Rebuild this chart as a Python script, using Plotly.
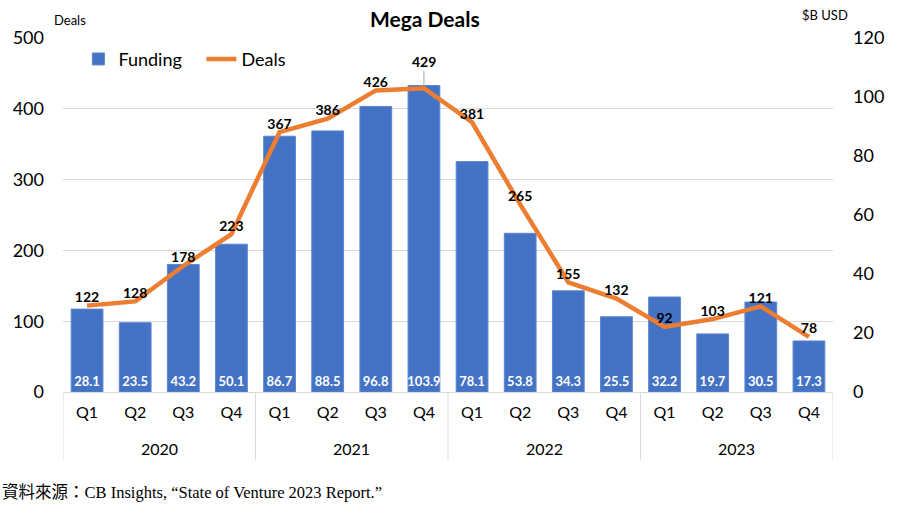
import plotly.graph_objects as go

years = ["2020", "2021", "2022", "2023"]
quarters = ["Q1", "Q2", "Q3", "Q4"]
funding = [28.1, 23.5, 43.2, 50.1, 86.7, 88.5, 96.8, 103.9,
           78.1, 53.8, 34.3, 25.5, 32.2, 19.7, 30.5, 17.3]
deals = [122, 128, 178, 223, 367, 386, 426, 429,
         381, 265, 155, 132, 92, 103, 121, 78]

# one category per year/quarter, quarter shown as tick text, year added below
cats = [f"{y} {q}" for y in years for q in quarters]
q_labels = [q for y in years for q in quarters]
nq = len(quarters)

BLUE = "#4472C4"
ORANGE = "#ED7D31"
GRID = "#D9D9D9"
FONT = "Lato"

fig = go.Figure()

# funding bars on the base axis (right side), so the line draws on top
fig.add_trace(go.Bar(
    x=cats, y=funding, name="Funding", yaxis="y",
    marker=dict(color=BLUE, line=dict(color="#5B86D0", width=1)),
    text=[f"{v:.1f}" for v in funding],
    textposition="inside", insidetextanchor="start", textangle=0,
    textfont=dict(color="white", size=13, family=FONT, weight="bold"),
    cliponaxis=False,
))

# label of the peak point is drawn separately with a leader line
peak = deals.index(max(deals))
deal_text = [str(v) if i != peak else "" for i, v in enumerate(deals)]

fig.add_trace(go.Scatter(
    x=cats, y=deals, name="Deals", yaxis="y2",
    mode="lines+text",
    line=dict(color=ORANGE, width=4.5),
    text=deal_text, textposition="top center",
    textfont=dict(color="black", size=14, family=FONT, weight="bold"),
    cliponaxis=False,
))

fig.add_annotation(
    x=cats[peak], y=deals[peak], xref="x", yref="y2",
    text="<b>429</b>", showarrow=True, arrowhead=0, arrowwidth=1,
    arrowcolor="#A6A6A6", ax=0, ay=-27, standoff=2,
    font=dict(size=14, color="black", family=FONT),
)

# year labels and group dividers under the quarter labels
for i, y in enumerate(years):
    fig.add_annotation(x=i * nq + (nq - 1) / 2, y=-0.16, xref="x", yref="paper",
                       text=y, showarrow=False, yanchor="middle",
                       font=dict(size=16))
for i in range(len(years) + 1):
    fig.add_shape(type="line", xref="x", yref="paper",
                  x0=i * nq - 0.5, x1=i * nq - 0.5, y0=0, y1=-0.192,
                  line=dict(color=GRID, width=1))

fig.update_layout(
    width=900, height=518,
    margin=dict(l=63, r=67, t=38, b=126),
    paper_bgcolor="white", plot_bgcolor="white",
    font=dict(family=FONT, color="black"),
    title=dict(text="<b>Mega Deals</b>", x=0.472, xanchor="center",
               y=0.963, yanchor="middle", font=dict(size=21)),
    bargap=0.34,
    showlegend=True,
    legend=dict(orientation="h", x=0.02, y=0.94, xanchor="left", yanchor="middle",
                font=dict(size=18), bgcolor="rgba(0,0,0,0)",
                itemwidth=30, entrywidth=78, entrywidthmode="pixels"),
    uniformtext=dict(minsize=13, mode="show"),
    xaxis=dict(
        type="category", showline=True, linecolor=GRID, linewidth=1,
        tickmode="array", tickvals=cats, ticktext=q_labels,
        tickfont=dict(size=16), ticks="", showgrid=False,
        ticklabelstandoff=6, automargin=False, range=[-0.5, len(cats) - 0.5],
    ),
    yaxis=dict(
        side="right", range=[0, 120], dtick=20, showgrid=False,
        tickfont=dict(size=18), zeroline=False, automargin=False,
        ticklabelstandoff=19,
    ),
    yaxis2=dict(
        side="left", overlaying="y", range=[0, 500], dtick=100,
        showgrid=True, gridcolor=GRID, gridwidth=1,
        tickfont=dict(size=18), zeroline=False, ticklabelstandoff=18,
        automargin=False,
    ),
)

fig.add_annotation(text="Deals", xref="paper", yref="paper", x=0.009, y=1.052,
                   xanchor="center", yanchor="middle", showarrow=False,
                   font=dict(size=13))
fig.add_annotation(text="$B USD", xref="paper", yref="paper", x=0.99, y=1.065,
                   xanchor="center", yanchor="middle", showarrow=False,
                   font=dict(size=13))
fig.add_annotation(text="資料來源：CB Insights, \u201cState of Venture 2023 Report.\u201d",
                   xref="paper", yref="paper", x=-0.082, y=-0.285,
                   xanchor="left", yanchor="middle", showarrow=False,
                   font=dict(size=16.5, family="Liberation Serif, Noto Sans CJK TC"))

# page body has a default 8px margin; drop it so the chart sits at the corner
fig.write_html("out.html", config={"displayModeBar": False},
               post_script="document.body.style.margin='0';")
